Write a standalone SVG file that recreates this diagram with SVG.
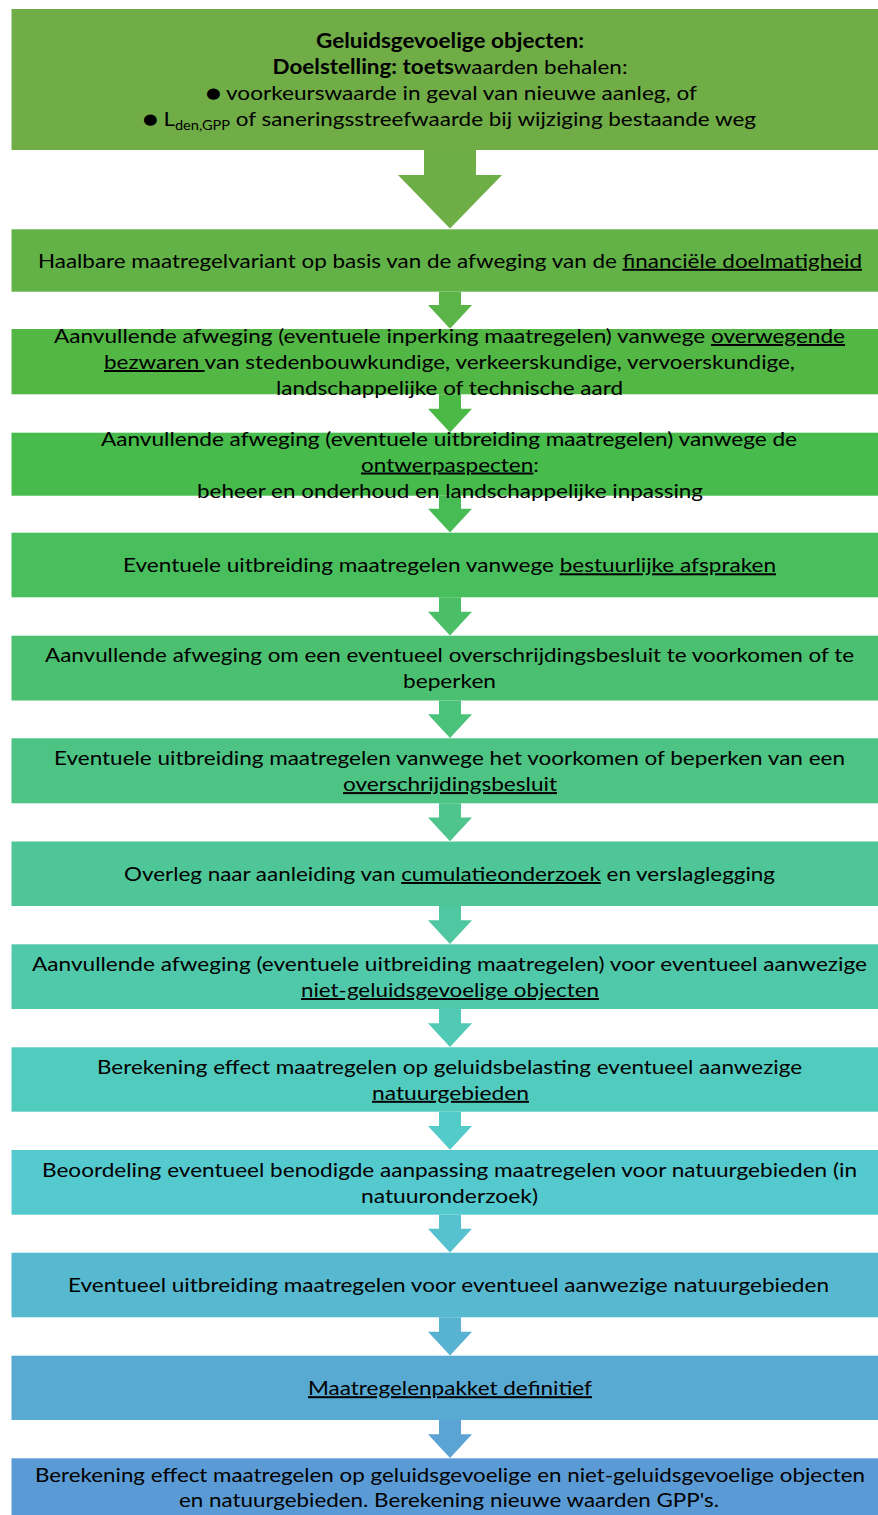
<svg xmlns="http://www.w3.org/2000/svg" width="878" height="1515" viewBox="0 0 878 1515">
  <style>
    text { font-family: Lato, "Liberation Sans", sans-serif; font-size: 20px; fill: #000; text-anchor: middle; }
    .b { font-weight: bold; }
    .u { text-decoration: underline; }
    .sub { font-size: 13px; }
    .dot { font-family: "DejaVu Sans", sans-serif; font-size: 15px; }
  </style>
  <rect width="878" height="1515" fill="#fff"/>

  <!-- connectors: block arrows between the steps -->
  <g id="connectors">
    <path d="M424,150 H476 V175 H502 L450,228.5 L398,175 H424 Z" fill="hsl(98,42%,48%)"/>
    <path d="M439,291.7 H461 V305 H472 L450,328.7 L428,305 H439 Z" fill="hsl(108.9,43.8%,49.2%)"/>
    <path d="M439,394.3 H461 V408.7 H472 L450,432.4 L428,408.7 H439 Z" fill="hsl(117.6,45.2%,50.1%)"/>
    <path d="M439,495.7 H461 V508.7 H472 L450,532.4 L428,508.7 H439 Z" fill="hsl(126.2,46.5%,51%)"/>
    <path d="M439,597.3 H461 V611.7 H472 L450,635.4 L428,611.7 H439 Z" fill="hsl(134.9,47.8%,51.9%)"/>
    <path d="M439,700.5 H461 V714.3 H472 L450,738 L428,714.3 H439 Z" fill="hsl(143.5,49.2%,52.8%)"/>
    <path d="M439,803.3 H461 V817.5 H472 L450,841.2 L428,817.5 H439 Z" fill="hsl(152.2,50.5%,53.7%)"/>
    <path d="M439,906 H461 V920.3 H472 L450,944 L428,920.3 H439 Z" fill="hsl(160.9,51.9%,54.6%)"/>
    <path d="M439,1009 H461 V1023.3 H472 L450,1047 L428,1023.3 H439 Z" fill="hsl(169.5,53.2%,55.5%)"/>
    <path d="M439,1111.7 H461 V1126 H472 L450,1149.7 L428,1126 H439 Z" fill="hsl(178.2,54.5%,56.4%)"/>
    <path d="M439,1214.7 H461 V1228.7 H472 L450,1252.4 L428,1228.7 H439 Z" fill="hsl(186.8,55.9%,57.4%)"/>
    <path d="M439,1317.3 H461 V1331.7 H472 L450,1355.4 L428,1331.7 H439 Z" fill="hsl(195.5,57.2%,58.3%)"/>
    <path d="M439,1420 H461 V1434.3 H472 L450,1458 L428,1434.3 H439 Z" fill="hsl(204.2,58.6%,59.2%)"/>
  </g>

  <!-- step boxes -->
  <g id="step1">
    <rect x="11.5" y="9" width="877" height="141" fill="hsl(95.9,41.8%,47.8%)"/>
    <text x="450" y="47.8" class="b" textLength="268" lengthAdjust="spacingAndGlyphs">Geluidsgevoelige objecten:</text>
    <text x="450" y="73.8" textLength="355" lengthAdjust="spacingAndGlyphs"><tspan class="b">Doelstelling: toets</tspan>waarden behalen:</text>
    <text x="451.5" y="99.8" textLength="491" lengthAdjust="spacingAndGlyphs"><tspan class="dot" dy="-2">●</tspan><tspan dy="2"> voorkeurswaarde in geval van nieuwe aanleg, of</tspan></text>
    <text x="449.5" y="125.8" textLength="613" lengthAdjust="spacingAndGlyphs"><tspan class="dot" dy="-2">●</tspan><tspan dy="2"> L</tspan><tspan class="sub" dy="4">den,GPP</tspan><tspan dy="-4"> of saneringsstreefwaarde bij wijziging bestaande weg</tspan></text>
  </g>

  <g id="step2">
    <rect x="11.5" y="229.3" width="877" height="62.4" fill="hsl(104.6,43.1%,48.7%)"/>
    <text x="450" y="267.8" textLength="824" lengthAdjust="spacingAndGlyphs">Haalbare maatregelvariant op basis van de afweging van de <tspan class="u">financiële doelmatigheid</tspan></text>
  </g>

  <g id="step3">
    <rect x="11.5" y="329" width="877" height="65.3" fill="hsl(113.2,44.5%,49.6%)"/>
    <text x="449.5" y="343" textLength="791" lengthAdjust="spacingAndGlyphs">Aanvullende afweging (eventuele inperking maatregelen) vanwege <tspan class="u">overwegende</tspan></text>
    <text x="449.5" y="369" textLength="691" lengthAdjust="spacingAndGlyphs"><tspan class="u">bezwaren </tspan>van stedenbouwkundige, verkeerskundige, vervoerskundige,</text>
    <text x="449.5" y="395" textLength="347" lengthAdjust="spacingAndGlyphs">landschappelijke of technische aard</text>
  </g>

  <g id="step4">
    <rect x="11.5" y="432.7" width="877" height="63" fill="hsl(121.9,45.8%,50.5%)"/>
    <text x="449" y="445.5" textLength="696" lengthAdjust="spacingAndGlyphs">Aanvullende afweging (eventuele uitbreiding maatregelen) vanwege de</text>
    <text x="450" y="471.5" textLength="178" lengthAdjust="spacingAndGlyphs"><tspan class="u">ontwerpaspecten</tspan>:</text>
    <text x="450" y="497.5" textLength="506" lengthAdjust="spacingAndGlyphs">beheer en onderhoud en landschappelijke inpassing</text>
  </g>

  <g id="step5">
    <rect x="11.5" y="532.7" width="877" height="64.6" fill="hsl(130.5,47.2%,51.4%)"/>
    <text x="449.5" y="572.3" textLength="653" lengthAdjust="spacingAndGlyphs">Eventuele uitbreiding maatregelen vanwege <tspan class="u">bestuurlijke afspraken</tspan></text>
  </g>

  <g id="step6">
    <rect x="11.5" y="635.7" width="877" height="64.8" fill="hsl(139.2,48.5%,52.4%)"/>
    <text x="449.5" y="662.4" textLength="809" lengthAdjust="spacingAndGlyphs">Aanvullende afweging om een eventueel overschrijdingsbesluit te voorkomen of te</text>
    <text x="449.5" y="688.4" textLength="93" lengthAdjust="spacingAndGlyphs">beperken</text>
  </g>

  <g id="step7">
    <rect x="11.5" y="738.3" width="877" height="65" fill="hsl(147.9,49.8%,53.3%)"/>
    <text x="449.5" y="765.1" textLength="791" lengthAdjust="spacingAndGlyphs">Eventuele uitbreiding maatregelen vanwege het voorkomen of beperken van een</text>
    <text x="450" y="791.1" textLength="214" lengthAdjust="spacingAndGlyphs"><tspan class="u">overschrijdingsbesluit</tspan></text>
  </g>

  <g id="step8">
    <rect x="11.5" y="841.5" width="877" height="64.5" fill="hsl(156.5,51.2%,54.2%)"/>
    <text x="449.5" y="881" textLength="651" lengthAdjust="spacingAndGlyphs">Overleg naar aanleiding van <tspan class="u">cumulatieonderzoek</tspan> en verslaglegging</text>
  </g>

  <g id="step9">
    <rect x="11.5" y="944.3" width="877" height="64.7" fill="hsl(165.2,52.5%,55.1%)"/>
    <text x="449.5" y="971" textLength="835" lengthAdjust="spacingAndGlyphs">Aanvullende afweging (eventuele uitbreiding maatregelen) voor eventueel aanwezige</text>
    <text x="450" y="997" textLength="298" lengthAdjust="spacingAndGlyphs"><tspan class="u">niet-geluidsgevoelige objecten</tspan></text>
  </g>

  <g id="step10">
    <rect x="11.5" y="1047.3" width="877" height="64.4" fill="hsl(173.8,53.9%,56%)"/>
    <text x="449.5" y="1073.8" textLength="705" lengthAdjust="spacingAndGlyphs">Berekening effect maatregelen op geluidsbelasting eventueel aanwezige</text>
    <text x="450.5" y="1099.8" textLength="157" lengthAdjust="spacingAndGlyphs"><tspan class="u">natuurgebieden</tspan></text>
  </g>

  <g id="step11">
    <rect x="11.5" y="1150" width="877" height="64.7" fill="hsl(182.5,55.2%,56.9%)"/>
    <text x="449.5" y="1176.7" textLength="815" lengthAdjust="spacingAndGlyphs">Beoordeling eventueel benodigde aanpassing maatregelen voor natuurgebieden (in</text>
    <text x="449.5" y="1202.7" textLength="177" lengthAdjust="spacingAndGlyphs">natuuronderzoek)</text>
  </g>

  <g id="step12">
    <rect x="11.5" y="1252.7" width="877" height="64.6" fill="hsl(191.2,56.5%,57.8%)"/>
    <text x="448.5" y="1292.3" textLength="761" lengthAdjust="spacingAndGlyphs">Eventueel uitbreiding maatregelen voor eventueel aanwezige natuurgebieden</text>
  </g>

  <g id="step13">
    <rect x="11.5" y="1355.7" width="877" height="64.3" fill="hsl(199.8,57.9%,58.7%)"/>
    <text x="450" y="1395.2" textLength="284" lengthAdjust="spacingAndGlyphs"><tspan class="u">Maatregelenpakket definitief</tspan></text>
  </g>

  <g id="step14">
    <rect x="11.5" y="1458.3" width="877" height="70" fill="hsl(208.5,59.2%,59.6%)"/>
    <text x="450" y="1482" textLength="830" lengthAdjust="spacingAndGlyphs">Berekening effect maatregelen op geluidsgevoelige en niet-geluidsgevoelige objecten</text>
    <text x="449" y="1507" textLength="540" lengthAdjust="spacingAndGlyphs">en natuurgebieden. Berekening nieuwe waarden GPP's.</text>
  </g>
</svg>
